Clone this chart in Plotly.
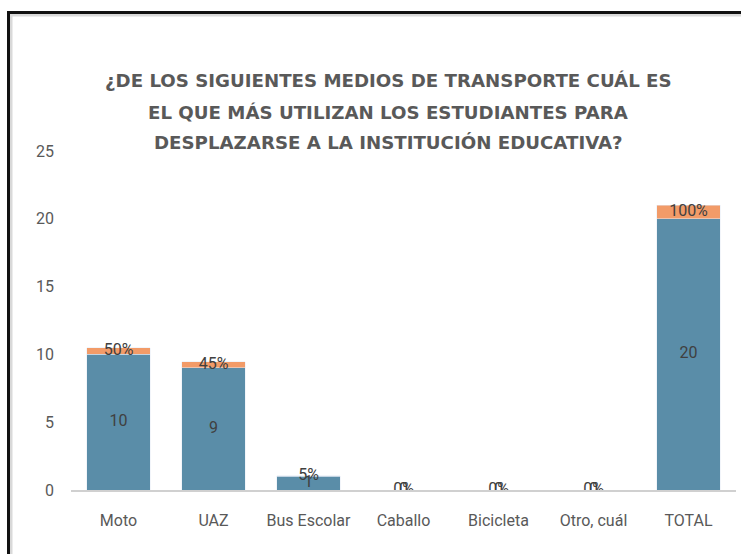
import plotly.graph_objects as go

categories = ["Moto", "UAZ", "Bus Escolar", "Caballo", "Bicicleta", "Otro, cuál", "TOTAL"]
counts = [10, 9, 1, 0, 0, 0, 20]
shares = [0.50, 0.45, 0.05, 0.0, 0.0, 0.0, 1.00]
y_ticks = [0, 5, 10, 15, 20, 25]
title_lines = [
    "¿DE LOS SIGUIENTES MEDIOS DE TRANSPORTE CUÁL ES",
    "EL QUE MÁS UTILIZAN LOS ESTUDIANTES PARA",
    "DESPLAZARSE A LA INSTITUCIÓN EDUCATIVA?",
]

BLUE = "#5A8DA8"
ORANGE = "#F29B68"
TEXT = "#404040"
AXIS_TEXT = "#595959"

W, H = 741, 554
L, R, T, B = 71, 5, 151, 64
pw, ph = W - L - R, H - T - B


def px_x(px):
    return (px - L) / pw


def px_y(py):
    return (H - B - py) / ph


fig = go.Figure()
fig.add_bar(x=categories, y=counts, marker_color=BLUE, name="Cantidad",
            hoverinfo="x+y")
fig.add_bar(x=categories, y=shares, marker_color=ORANGE, name="Porcentaje",
            hoverinfo="x+y")

# value labels centred in each stacked segment
fig.add_scatter(x=categories, y=[c / 2 for c in counts], mode="text",
                text=[str(c) for c in counts],
                textfont=dict(family="Roboto", size=16, color=TEXT),
                hoverinfo="skip", showlegend=False)
fig.add_scatter(x=categories, y=[c + s / 2 for c, s in zip(counts, shares)],
                mode="text",
                text=[f"{round(s * 100)}%" for s in shares],
                textfont=dict(family="Roboto", size=16, color=TEXT),
                hoverinfo="skip", showlegend=False)

# three-line bold title
for i, line in enumerate(title_lines):
    fig.add_annotation(text=f"<b>{line}</b>", xref="paper", yref="paper",
                       x=px_x(388), y=px_y(81 + i * 31), xanchor="center",
                       yanchor="middle", showarrow=False,
                       font=dict(family="DejaVu Sans", size=18.2,
                                 color=AXIS_TEXT))

# frame around the chart area
fig.add_shape(type="rect", xref="paper", yref="paper",
              x0=px_x(11), x1=px_x(760), y0=px_y(575), y1=px_y(15),
              line=dict(color="#D9D9D9", width=3), layer="below")
fig.add_shape(type="rect", xref="paper", yref="paper",
              x0=px_x(8.5), x1=px_x(760), y0=px_y(575), y1=px_y(12.5),
              line=dict(color="#111111", width=3), layer="above")

fig.update_layout(
    width=W, height=H,
    margin=dict(l=L, r=R, t=T, b=B, pad=0),
    barmode="stack", bargap=0.33,
    plot_bgcolor="white", paper_bgcolor="white",
    showlegend=False,
    font=dict(family="Roboto", color=AXIS_TEXT),
)
fig.update_xaxes(showline=True, linecolor="#D0D0D0", linewidth=2,
                 ticks="", showgrid=False, ticklabelstandoff=15,
                 tickfont=dict(family="Roboto", size=16, color=AXIS_TEXT))
fig.update_yaxes(range=[0, 25], tickvals=y_ticks, showgrid=False,
                 zeroline=False, showline=False, ticks="",
                 ticklabelstandoff=16,
                 tickfont=dict(family="Roboto", size=16, color=AXIS_TEXT))

fig.write_html("out.html")
